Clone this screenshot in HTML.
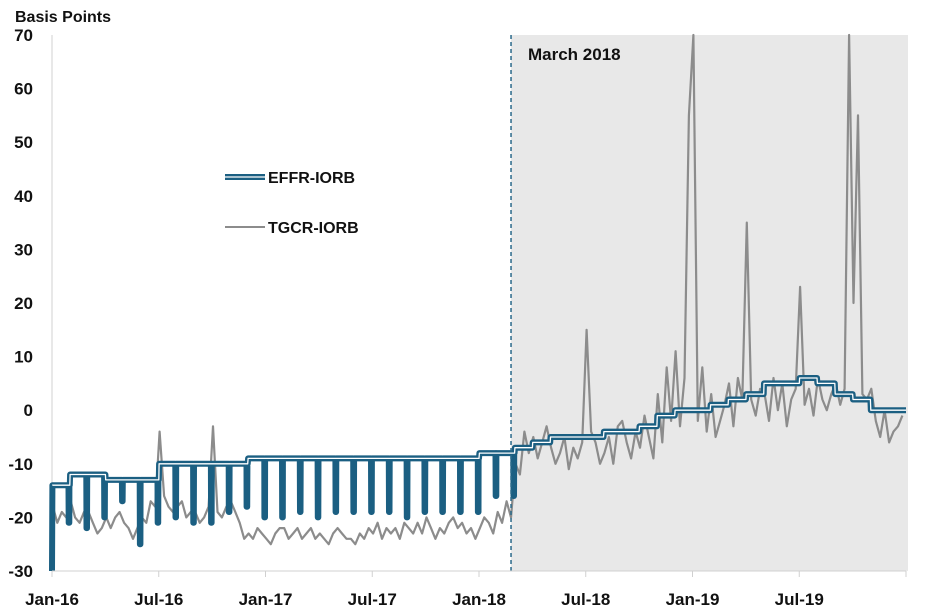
<!DOCTYPE html>
<html><head><meta charset="utf-8"><style>
body{margin:0;background:#fff;}
svg{display:block;font-family:"Liberation Sans",Arial,sans-serif;}
</style></head><body>
<svg id="chart" width="925" height="616" viewBox="0 0 925 616">
<rect x="0" y="0" width="925" height="616" fill="#fff"/>
<rect id="shade" fill="#e8e8e8"/>
<g id="grid"></g>
<g id="series"></g>
<line id="vline" stroke="#2a6a8a" stroke-width="1.5" stroke-dasharray="4,3"/>
<text x="528" y="60" font-size="17" font-weight="bold" fill="#111">March 2018</text>
<text x="15" y="22" font-size="16" font-weight="bold" fill="#111">Basis Points</text>
<g>
<g>
<line x1="225" y1="177" x2="265" y2="177" stroke="#1b5f82" stroke-width="6"/>
<line x1="225" y1="177" x2="265" y2="177" stroke="#fff" stroke-width="1.3"/>
<text x="268" y="183" font-size="16" font-weight="bold" fill="#111">EFFR-IORB</text>
</g>
<g>
<line x1="225" y1="227" x2="265" y2="227" stroke="#8c8c8c" stroke-width="2"/>
<text x="268" y="233" font-size="16" font-weight="bold" fill="#111">TGCR-IORB</text>
</g>
</g>
<g id="axes"></g>
</svg>
<script>
const xTickLabels = ["Jan-16","Jul-16","Jan-17","Jul-17","Jan-18","Jul-18","Jan-19","Jul-19"];
const xTickMonths = [0,6,12,18,24,30,36,42];
const yTicks = [70,60,50,40,30,20,10,0,-10,-20,-30];
const marchMonth = 25.8;
const effrBase = [-14,-12,-12,-13,-13,-13,-10,-10,-10,-10,-10,-9,
 -9,-9,-9,-9,-9,-9,-9,-9,-9,-9,-9,-9,
 -8,-8,-7,-6,-5,-5,-5,-4,-4,-3,-1,0,
 0,1,2,3,5,5,6,5,3,2,0,0];
const effrDip = [-21,-22,-20,-17,-25,-21,-20,-21,-21,-19,-18,-20,
 -20,-19,-20,-19,-19,-19,-19,-20,-19,-19,-19,-19,
 -16,-16,null,null,null,null,null,null,null,null,null,null,
 null,null,null,null,null,null,null,null,null,null,null,null];
const tgcr = [
-18,-21,-19,-20, -17,-20,-21,-19, -19,-21,-23,-22, -20,-22,-20,-19,
-21,-22,-24,-22, -20,-21,-17,-18, -4,-16,-18,-19, -18,-17,-20,-19,
-19,-21,-20,-18, -3,-19,-20,-18, -17,-19,-21,-24, -23,-24,-22,-23,
-24,-25,-23,-22, -22,-24,-23,-22, -24,-23,-22,-24, -23,-24,-25,-23,
-22,-23,-24,-24, -25,-23,-24,-22, -23,-21,-24,-22, -23,-22,-24,-21,
-22,-23,-21,-23, -20,-22,-24,-22, -23,-21,-20,-22, -21,-23,-22,-24,
-22,-20,-21,-23, -19,-21,-17,-20, -10,-12,-4,-8, -5,-9,-6,-3,
-7,-10,-8,-5, -11,-7,-9,-6, 15,-4,-6,-10, -8,-5,-10,-3,
-2,-6,-9,-4, -7,-1,-5,-9, 3,-6,8,-2, 11,-3,6,55,
75,-2,8,-4, 3,-5,-2,1, 5,-3,6,2, 35,2,-1,4,
3,-2,6,0, 5,-3,2,4, 23,1,4,-1, 6,2,0,3,
5,1,4,72, 20,55,3,2, 4,-2,-5,0, -6,-4,-3,-1];

const X0=52, X1=906, Y0=35, Y1=571, NM=48;
const xs = m => X0 + m*(X1-X0)/NM;
const ys = v => Y0 + (70-Math.max(-30,Math.min(70,v)))*(Y1-Y0)/100;
const NS="http://www.w3.org/2000/svg";
function mk(tag, attrs, parent){const e=document.createElementNS(NS,tag);for(const k in attrs)e.setAttribute(k,attrs[k]);parent.appendChild(e);return e;}

const shade=document.getElementById('shade');
shade.setAttribute('x',xs(marchMonth));shade.setAttribute('y',Y0);
shade.setAttribute('width',X1+2-xs(marchMonth));shade.setAttribute('height',Y1-Y0);
const vl=document.getElementById('vline');
vl.setAttribute('x1',xs(marchMonth));vl.setAttribute('x2',xs(marchMonth));
vl.setAttribute('y1',Y0);vl.setAttribute('y2',Y1);

const axes=document.getElementById('axes');
const grid=document.getElementById('grid');
const yax=mk('line',{x1:X0,x2:X0,y1:Y0,y2:Y1,stroke:'#d0d0d0','stroke-width':1},grid);


const xax=mk('line',{x1:X0,x2:X1,y1:Y1,y2:Y1,stroke:'#d0d0d0','stroke-width':1},axes);


yTicks.forEach(v=>{
  const t=mk('text',{x:33,y:ys(v)+6,'text-anchor':'end','font-size':17,'font-weight':'bold',fill:'#111'},axes);
  t.textContent=v;
  
  
});
xTickMonths.forEach((m,i)=>{
  const tk=mk('line',{x1:xs(m),x2:xs(m),y1:Y1,y2:Y1+6,stroke:'#d0d0d0'},axes);
  
  
  const t=mk('text',{x:xs(m),y:Y1+34,'text-anchor':'middle','font-size':17,'font-weight':'bold',fill:'#111'},axes);
  t.textContent=xTickLabels[i];
  
  
});
const endTick=mk('line',{x1:X1,x2:X1,y1:Y1,y2:Y1+6,stroke:'#d0d0d0'},axes);



const ser=document.getElementById('series');
let d='';
tgcr.forEach((v,i)=>{d+=(i?'L':'M')+xs(i/4+0.05).toFixed(1)+','+ys(v).toFixed(1);});
const tl=mk('path',{d:d,fill:'none',stroke:'#8c8c8c','stroke-width':2.2,'stroke-linejoin':'round'},ser);


let e='M'+xs(0)+','+ys(-30);
let inner='M'+xs(0.02)+','+ys(effrBase[0]);
effrBase.forEach((b,m)=>{
  e+='L'+xs(m+0.02).toFixed(1)+','+ys(b).toFixed(1);
  inner+='L'+xs(m+0.02).toFixed(1)+','+ys(b).toFixed(1);
  if(effrDip[m]!==null){
    e+='L'+xs(m+0.93).toFixed(1)+','+ys(b).toFixed(1);
    e+='L'+xs(m+0.94).toFixed(1)+','+ys(effrDip[m]).toFixed(1);
    e+='L'+xs(m+0.97).toFixed(1)+','+ys(effrDip[m]).toFixed(1);
    e+='L'+xs(m+0.98).toFixed(1)+','+ys(b).toFixed(1);
    e+='L'+xs(m+1.0).toFixed(1)+','+ys(b).toFixed(1);
  } else {
    e+='L'+xs(m+1.0).toFixed(1)+','+ys(b).toFixed(1);
  }
  inner+='L'+xs(m+1.0).toFixed(1)+','+ys(b).toFixed(1);
});
const eo=mk('path',{d:e,fill:'none',stroke:'#1b5f82','stroke-width':6,'stroke-linejoin':'round'},ser);


const ei=mk('path',{d:inner,fill:'none',stroke:'#fff','stroke-width':1.3,'stroke-linejoin':'round'},ser);


</script>
</body></html>
